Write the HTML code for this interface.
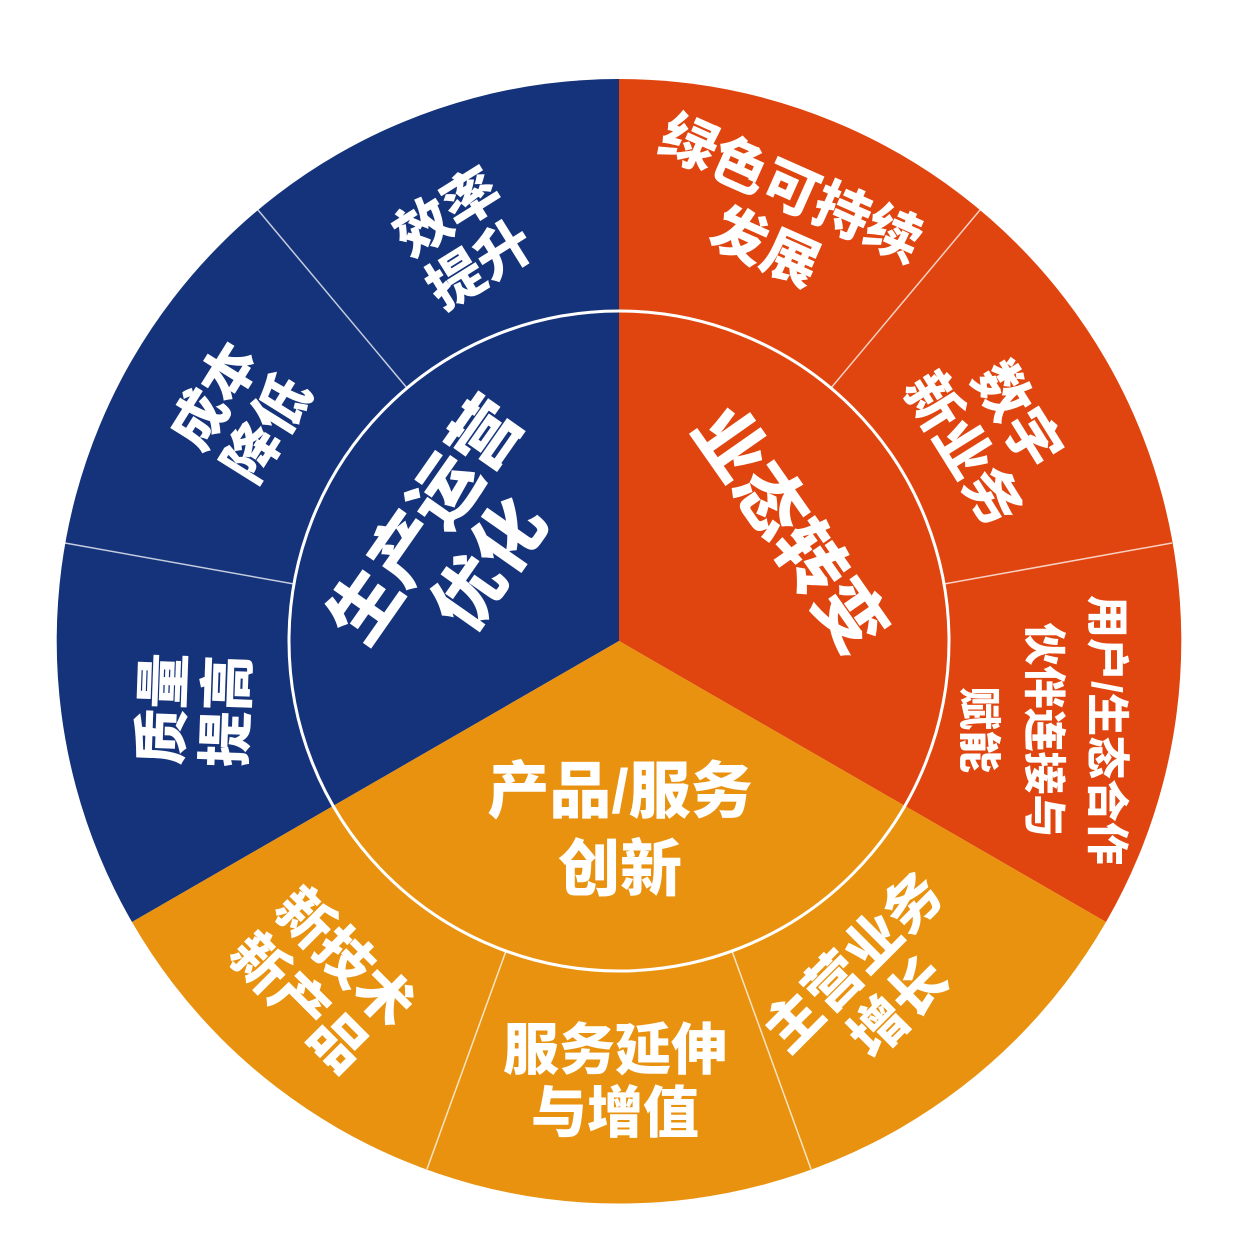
<!DOCTYPE html>
<html><head><meta charset="utf-8">
<style>
html,body{margin:0;padding:0;background:#fff;}
svg{display:block;}
text{font-family:"Liberation Sans","Noto Sans CJK SC",sans-serif;font-weight:900;fill:#fff;text-anchor:middle;dominant-baseline:central;}
</style></head>
<body>
<svg width="1242" height="1257" viewBox="0 0 1242 1257" xmlns="http://www.w3.org/2000/svg">
<path d="M619,641 L619,79 A562,562 0 0 0 132,922 Z" fill="#14337a"/>
<path d="M619,641 L619,79 A562,562 0 0 1 1106,922 Z" fill="#e0440f"/>
<path d="M619,641 L1106,922 A562,562 0 0 1 132,922 Z" fill="#e8920f"/>
<g stroke="#ffffff" stroke-opacity="0.75" stroke-width="1.5">
<line x1="407" y1="388" x2="258" y2="210"/>
<line x1="294" y1="584" x2="65" y2="543"/>
<line x1="831" y1="388" x2="980" y2="210"/>
<line x1="944" y1="584" x2="1172" y2="543"/>
<line x1="506" y1="951" x2="427" y2="1169"/>
<line x1="732" y1="951" x2="811" y2="1169"/>
</g>
<circle cx="619" cy="641" r="330" fill="none" stroke="#fff" stroke-width="3"/>

<g transform="translate(463,238) rotate(-32)"><text y="-30" font-size="56">效率</text><text y="32" font-size="56">提升</text></g>
<g transform="translate(240,412) rotate(-58)"><text y="-30" font-size="56">成本</text><text y="32" font-size="56">降低</text></g>
<g transform="translate(195,710) rotate(-88)"><text y="-32" font-size="56">质量</text><text y="32" font-size="56">提高</text></g>
<g transform="translate(457,542) rotate(-55)"><text y="-38" font-size="70">生产运营</text><text y="40" font-size="70">优化</text></g>

<g transform="translate(778,218) rotate(24)"><text y="-32" font-size="56">绿色可持续</text><text y="32" font-size="56">发展</text></g>
<g transform="translate(990,432) rotate(58)"><text y="-32" font-size="56">数字</text><text y="32" font-size="56">新业务</text></g>
<g transform="translate(1043,730) rotate(90)"><text y="-63" font-size="43">用户/生态合作</text><text y="0" font-size="43">伙伴连接与</text><text y="65" font-size="43">赋能</text></g>
<g transform="translate(790,530) rotate(55)"><text font-size="70">业态转变</text></g>

<g><text x="620" y="792" font-size="62">产品/服务</text><text x="620" y="870" font-size="62">创新</text></g>
<g transform="translate(322,980) rotate(45)"><text y="-32" font-size="56">新技术</text><text y="32" font-size="56">新产品</text></g>
<g><text x="615" y="1050" font-size="56">服务延伸</text><text x="615" y="1113" font-size="56">与增值</text></g>
<g transform="translate(876,985) rotate(-45)"><text y="-32" font-size="56">主营业务</text><text y="32" font-size="56">增长</text></g>
</svg>
</body></html>
